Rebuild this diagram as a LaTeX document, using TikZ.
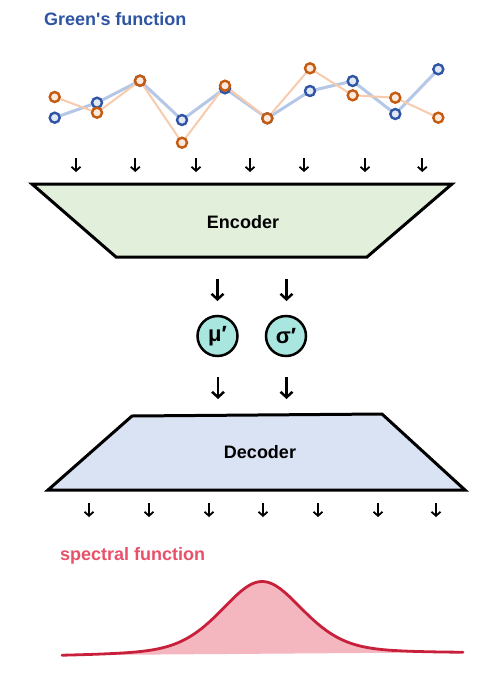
\documentclass[tikz,border=0pt]{standalone}
\usepackage{fontspec}
\setmainfont{Liberation Sans}
\usetikzlibrary{arrows.meta}
\definecolor{titleblue}{HTML}{2E54A3}
\definecolor{bline}{HTML}{B4C7E7}
\definecolor{bmark}{HTML}{2F55A4}
\definecolor{oline}{HTML}{F8CBAD}
\definecolor{omark}{HTML}{C55A11}
\definecolor{encfill}{HTML}{E2EFDA}
\definecolor{decfill}{HTML}{DAE3F3}
\definecolor{latfill}{HTML}{A8E6DF}
\definecolor{spectxt}{HTML}{E8516A}
\definecolor{specline}{HTML}{C8203A}
\definecolor{specfill}{HTML}{F4B6BF}
\tikzset{
  smallarrow/.style={line width=1.8pt,-{Straight Barb[length=4pt,width=9pt,line width=1.8pt]}},
  bigarrow/.style={line width=2.5pt,-{Straight Barb[length=5.5pt,width=12pt,line width=2.5pt]}},
  bmk/.style={circle,draw=bmark,fill=white!60!bline,line width=2.4pt,minimum size=10pt,inner sep=0pt},
  omk/.style={circle,draw=omark,fill=white!60!oline,line width=2.4pt,minimum size=10pt,inner sep=0pt},
  boxlabel/.style={font=\fontsize{18}{20}\selectfont\bfseries},
  latent/.style={circle,draw=black,line width=2.5pt,fill=latfill,minimum size=40pt,inner sep=0pt,font=\fontsize{22}{24}\selectfont\bfseries},
  trap/.style={draw=black,line width=3pt,line join=miter}
}
\begin{document}
\begin{tikzpicture}[x=1pt,y=-1pt]
\useasboundingbox (0,0) rectangle (499,681);
% title
\node[anchor=west,text=titleblue,font=\fontsize{18}{20}\selectfont\bfseries,inner sep=0pt] (title) at (44,19) {Green\textquotesingle s function};
% data
\foreach \i/\x/\yb/\yo in {1/54.7/117.7/97,2/97/102.7/112.7,3/140/80.7/80.7,4/182/120/142.7,5/225/88.3/85.7,6/267.3/118.3/118.3,7/310/91/68.3,8/352.7/81/95.3,9/395.3/114/97.7,10/438.3/69.3/117.7}{
  \coordinate (b\i) at (\x,\yb);
  \coordinate (o\i) at (\x,\yo);
}
\draw[bline,line width=3pt,line join=round] (b1)--(b2)--(b3)--(b4)--(b5)--(b6)--(b7)--(b8)--(b9)--(b10);
\draw[oline,line width=2pt,line join=round] (o1)--(o2)--(o3)--(o4)--(o5)--(o6)--(o7)--(o8)--(o9)--(o10);
\foreach \i in {1,...,10}{\node[bmk] (bm\i) at (b\i) {};}
\foreach \i in {1,...,10}{\node[omk] (om\i) at (o\i) {};}
% input arrows
\foreach \i/\x in {1/76,2/135.3,3/196,4/250,5/304,6/365,7/422.3}{
  \coordinate (ia\i) at (\x,158);
  \coordinate (ib\i) at (\x,172);
  \draw[smallarrow] (ia\i) -- (ib\i);
}
% encoder
\draw[trap,fill=encfill] (32,184) -- (452,184) -- (367,257) -- (116,257) -- cycle;
\node[boxlabel] (enc) at (243,222) {Encoder};
% latent
\node[latent] (mu) at (217.5,336) {μ′};
\node[latent] (sig) at (286,336) {σ′};
\coordinate (mua) at (217.5,279); \coordinate (mub) at (217.5,301);
\coordinate (siga) at (286.5,279); \coordinate (sigb) at (286.5,301);
\draw[bigarrow] (mua) -- (mub);
\draw[bigarrow] (siga) -- (sigb);
\coordinate (muc) at (218,377); \coordinate (mud) at (218,399);
\coordinate (sigc) at (286.5,377); \coordinate (sigd) at (286.5,399);
\draw[bigarrow] (muc) -- (mud);
\draw[bigarrow] (sigc) -- (sigd);
% decoder
\draw[trap,fill=decfill] (132,416) -- (382,414) -- (465,490) -- (48,490) -- cycle;
\node[boxlabel] (dec) at (260,452) {Decoder};
% output arrows
\foreach \i/\x in {1/89,2/149,3/209,4/263,5/318,6/378,7/436}{
  \coordinate (oa\i) at (\x,503);
  \coordinate (ob\i) at (\x,517);
  \draw[smallarrow] (oa\i) -- (ob\i);
}
% spectral
\node[anchor=west,text=spectxt,font=\fontsize{18}{20}\selectfont\bfseries,inner sep=0pt] (spec) at (60,556) {spectral function};
\fill[specfill] plot[domain=62:463,samples=160,smooth] (\x,{657-3*(\x-62)/401-74*(0.62*exp(-0.5*((\x-262)/41)^2)+0.38/(1+((\x-262)/52)^2))}) -- cycle;
\draw[specline,line width=2.8pt,line cap=round] plot[domain=62:463,samples=160,smooth] (\x,{657-3*(\x-62)/401-74*(0.62*exp(-0.5*((\x-262)/41)^2)+0.38/(1+((\x-262)/52)^2))});
\end{tikzpicture}
\end{document}
